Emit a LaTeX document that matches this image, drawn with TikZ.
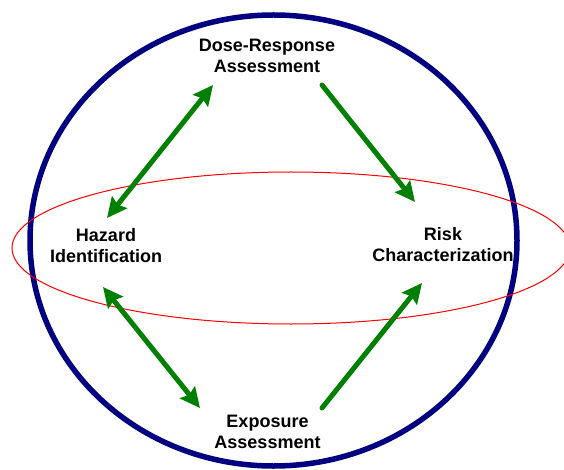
\documentclass[tikz,border=0pt]{standalone}
\usepackage{fontspec}
\setmainfont{Liberation Sans}
\usetikzlibrary{arrows.meta}
\definecolor{rnavy}{RGB}{0,0,128}
\definecolor{rgreen}{RGB}{0,128,0}
\definecolor{rred}{RGB}{255,0,0}
\tikzset{
  lbl/.style={inner sep=0pt, align=center, anchor=south, text depth=0pt,
    font=\fontsize{18}{21}\selectfont\bfseries},
  flow/.style={draw=rgreen, line width=5pt, line cap=round,
    -{Stealth[length=20pt,width=19pt,inset=3pt]}},
  biflow/.style={flow, {Stealth[length=20pt,width=19pt,inset=3pt]}-{Stealth[length=20pt,width=19pt,inset=3pt]}},
}
\begin{document}
\begin{tikzpicture}[x=1pt,y=-1pt]
\useasboundingbox (0,0) rectangle (564,470);
\begin{scope}
\clip (0,0) rectangle (564,470);
\draw[rnavy, line width=5.5pt] (273.5,240.5) ellipse [x radius=243.5, y radius=225.5];
\draw[rred, line width=1pt] (291,248) ellipse [x radius=279, y radius=76];
\end{scope}

\node[lbl] (dose) at (267,73) {Dose-Response\\Assessment};
\node[lbl] (expo) at (267.5,449) {Exposure\\Assessment};
\node[lbl] (haz) at (106,263) {Hazard\\Identification};
\node[lbl] (risk) at (443,262) {Risk\\Characterization};

\coordinate (hazT) at (107,218);
\coordinate (doseL) at (213,85);
\coordinate (doseR) at (322,85);
\coordinate (riskT) at (415,202);
\coordinate (hazB) at (103,287);
\coordinate (expoL) at (200,408);
\coordinate (expoR) at (322,408);
\coordinate (riskB) at (422,283);

\draw[biflow] (hazT) -- (doseL);
\draw[flow] (doseR) -- (riskT);
\draw[biflow] (hazB) -- (expoL);
\draw[flow] (expoR) -- (riskB);
\end{tikzpicture}
\end{document}
